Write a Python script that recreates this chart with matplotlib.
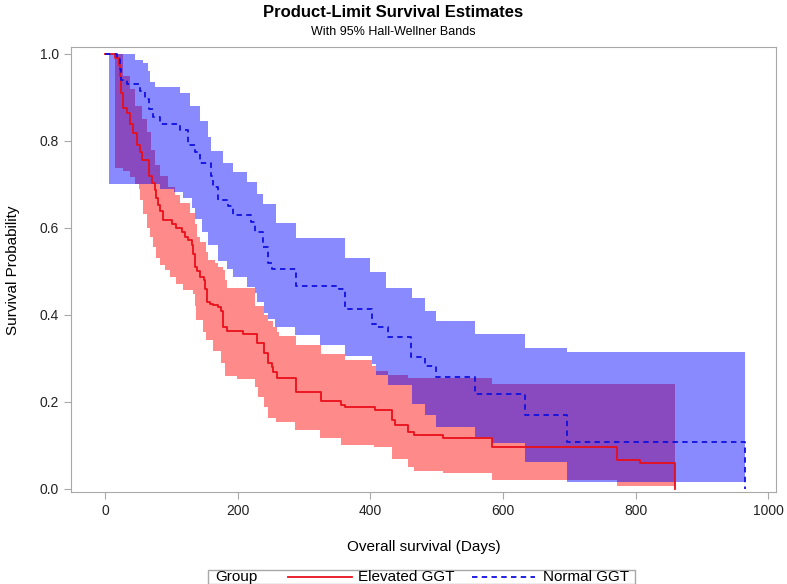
import matplotlib
matplotlib.use("Agg")
import matplotlib.pyplot as plt
from matplotlib.lines import Line2D
from matplotlib.patches import Rectangle
import numpy as np

plt.rcParams['font.family'] = ['Liberation Sans', 'DejaVu Sans']

# Elevated GGT: Kaplan-Meier estimate and Hall-Wellner band (days, probability)
elev_t = [0, 15, 21, 22, 23, 24, 26, 27, 33, 37, 42, 47, 52, 55, 65, 70, 75, 77, 79, 83, 87,
          100, 107, 115, 120, 125, 130, 132, 135, 138, 143, 148, 150, 153, 158, 163, 170, 175,
          178, 183, 208, 228, 240, 246, 251, 253, 259, 287, 325, 356, 361, 407, 432, 437, 457,
          465, 510, 583, 772, 806, 860]
elev_s = [1.0, 0.99, 0.975, 0.95, 0.93, 0.91, 0.89, 0.876, 0.864, 0.84, 0.818, 0.79, 0.775,
          0.756, 0.72, 0.703, 0.687, 0.67, 0.653, 0.64, 0.618, 0.61, 0.60, 0.59, 0.58, 0.572,
          0.561, 0.54, 0.511, 0.50, 0.488, 0.48, 0.46, 0.43, 0.425, 0.422, 0.418, 0.408, 0.373,
          0.362, 0.357, 0.335, 0.312, 0.289, 0.28, 0.27, 0.254, 0.224, 0.203, 0.193, 0.189,
          0.182, 0.159, 0.147, 0.132, 0.124, 0.117, 0.097, 0.067, 0.059, 0.0]
elev_up_t = [15, 27, 37, 45, 55, 63, 68, 75, 82, 95, 105, 113, 128, 135, 138, 143, 152, 155,
             165, 170, 177, 180, 183, 225, 240, 245, 253, 259, 262, 287, 325, 361, 402, 409,
             427, 456, 583]
elev_up = [1.0, 0.95, 0.92, 0.88, 0.85, 0.82, 0.78, 0.745, 0.72, 0.695, 0.676, 0.657, 0.635,
           0.61, 0.58, 0.568, 0.545, 0.526, 0.519, 0.511, 0.503, 0.48, 0.462, 0.42, 0.40,
           0.385, 0.372, 0.36, 0.352, 0.33, 0.31, 0.297, 0.283, 0.272, 0.262, 0.254, 0.242]
elev_lo_t = [15, 27, 37, 44, 50, 52, 57, 62, 67, 72, 77, 82, 90, 97, 107, 117, 132, 135, 137,
             147, 152, 162, 175, 180, 198, 225, 230, 240, 245, 258, 286, 324, 355, 406, 432,
             457, 465, 510, 583, 772]
elev_lo = [0.737, 0.73, 0.717, 0.70, 0.69, 0.665, 0.632, 0.60, 0.58, 0.556, 0.53, 0.515, 0.503,
           0.487, 0.472, 0.457, 0.449, 0.42, 0.388, 0.36, 0.342, 0.318, 0.29, 0.26, 0.253,
           0.234, 0.211, 0.189, 0.164, 0.153, 0.136, 0.116, 0.101, 0.097, 0.07, 0.05, 0.042,
           0.036, 0.021, 0.007]
elev_end = 860

# Normal GGT
norm_t = [0, 17, 22, 24, 32, 52, 60, 65, 72, 83, 112, 125, 135, 143, 160, 163, 170, 185, 193,
          220, 225, 238, 245, 252, 288, 353, 361, 402, 409, 427, 461, 482, 499, 557, 633, 696, 965]
norm_s = [1.0, 0.99, 0.965, 0.94, 0.93, 0.915, 0.896, 0.874, 0.854, 0.838, 0.826, 0.79, 0.775,
          0.75, 0.72, 0.695, 0.665, 0.651, 0.63, 0.613, 0.59, 0.556, 0.52, 0.505, 0.467, 0.46,
          0.413, 0.38, 0.372, 0.35, 0.303, 0.283, 0.257, 0.219, 0.17, 0.109, 0.0]
norm_up_t = [5, 44, 57, 64, 67, 75, 112, 127, 143, 155, 160, 178, 193, 213, 228, 238, 258, 288,
             361, 399, 424, 462, 482, 499, 557, 633, 696]
norm_up = [1.0, 0.985, 0.98, 0.96, 0.935, 0.925, 0.91, 0.88, 0.846, 0.808, 0.778, 0.75, 0.728,
           0.705, 0.678, 0.655, 0.612, 0.578, 0.53, 0.498, 0.463, 0.44, 0.41, 0.386, 0.356,
           0.323, 0.314]
norm_lo_t = [5, 83, 103, 117, 130, 135, 145, 155, 170, 183, 193, 213, 225, 228, 240, 245, 256,
             286, 324, 361, 402, 409, 427, 462, 482, 499, 557, 583, 633, 696]
norm_lo = [0.70, 0.69, 0.682, 0.67, 0.645, 0.62, 0.59, 0.56, 0.525, 0.505, 0.487, 0.465, 0.45,
           0.43, 0.404, 0.39, 0.373, 0.355, 0.33, 0.305, 0.288, 0.262, 0.24, 0.195, 0.17,
           0.143, 0.12, 0.105, 0.063, 0.017]
norm_end = 965

x_ticks = [0, 200, 400, 600, 800, 1000]
y_ticks = [0.0, 0.2, 0.4, 0.6, 0.8, 1.0]
group_labels = ['Elevated GGT', 'Normal GGT']


def step_at(x, t, v):
    idx = np.searchsorted(t, x, side='right') - 1
    return np.asarray(v)[idx]


def draw_band(ax, up_t, up, lo_t, lo, end, color):
    x = np.union1d(np.union1d(up_t, lo_t), [end])
    upper = step_at(x, up_t, up)
    lower = step_at(x, lo_t, lo)
    ax.fill_between(x, lower, upper, step='post', color=color, alpha=0.46, lw=0)


fig = plt.figure(figsize=(7.87, 5.84), dpi=100)
ax = fig.add_axes([71 / 787, 1 - 492 / 584, 705 / 787, 445 / 584])

draw_band(ax, elev_up_t, elev_up, elev_lo_t, elev_lo, elev_end, '#FF0000')
draw_band(ax, norm_up_t, norm_up, norm_lo_t, norm_lo, norm_end, '#0000FF')

ax.step(elev_t, elev_s, where='post', color='#E8101A', lw=1.3)
ax.step(norm_t, norm_s, where='post', color='#1010E0', lw=1.3, ls=(0, (3, 2.4)))

ax.set_xlim(-52, 1012)
ax.set_ylim(-0.007, 1.016)
ax.set_xticks(x_ticks)
ax.set_yticks(y_ticks)
ax.set_yticklabels(['%.1f' % v for v in y_ticks])
for s in ax.spines.values():
    s.set_color('#A8A8A8')
ax.tick_params(direction='out', length=5, color='#A8A8A8', labelsize=10, labelcolor='#222222')

fig.text(0.5, 0.978, 'Product-Limit Survival Estimates', ha='center', va='center',
         fontsize=12, fontweight='bold')
fig.text(0.5, 0.946, 'With 95% Hall-Wellner Bands', ha='center', va='center', fontsize=9)
fig.text(13 / 787, 1 - 270 / 584, 'Survival Probability', rotation=90, ha='center',
         va='center', fontsize=11)
fig.text(424 / 787, 1 - 547 / 584, 'Overall survival (Days)', ha='center', va='center',
         fontsize=11)

# legend box under the plot
fig.patches.append(Rectangle((208 / 787, 1 - 584 / 584), 427 / 787, 14 / 584,
                             transform=fig.transFigure, fill=False, ec='#A8A8A8', lw=1))
ly = 1 - 577 / 584
fig.text(215 / 787, ly, 'Group', ha='left', va='center', fontsize=11)
fig.lines.append(Line2D([288 / 787, 352 / 787], [ly, ly], transform=fig.transFigure,
                        color='#E8101A', lw=1.3))
fig.text(358 / 787, ly, group_labels[0], ha='left', va='center', fontsize=11)
fig.lines.append(Line2D([472 / 787, 535 / 787], [ly, ly], transform=fig.transFigure,
                        color='#1010E0', lw=1.3, ls=(0, (3, 2.4))))
fig.text(543 / 787, ly, group_labels[1], ha='left', va='center', fontsize=11)

fig.savefig('out.png', dpi=100)
